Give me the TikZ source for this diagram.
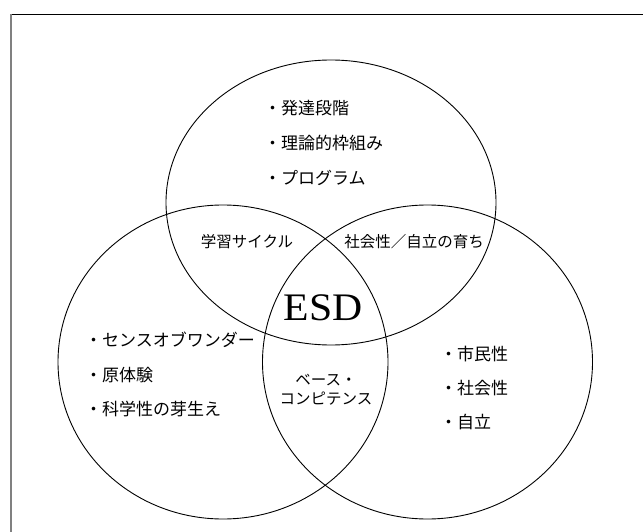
\documentclass[tikz,border=0pt]{standalone}
\usepackage{fontspec}
\newfontfamily\jp{Noto Sans CJK JP}
\newfontfamily\esdfont{Liberation Serif}
\begin{document}
\begin{tikzpicture}[x=1pt,y=-1pt,
  ring/.style={draw=black, line width=0.9pt},
  item/.style={anchor=west, inner sep=0pt, font=\jp\fontsize{17}{17}\selectfont},
  lab/.style={inner sep=0pt, font=\jp\fontsize{15.5}{19}\selectfont, align=center},
]
\useasboundingbox (0,0) rectangle (643,532);
% frame
\draw[line width=1.2pt] (10.5,14.5) -- (643,14.5);
\draw[line width=2pt, gray] (11,14) -- (11,532);
% circles
\draw[ring] (331,202.5) ellipse [x radius=165pt, y radius=142.5pt];
\draw[ring] (223,362) ellipse [x radius=165pt, y radius=157pt];
\draw[ring] (427.5,362) ellipse [x radius=165pt, y radius=157pt];
% top list
\node[item] (t1) at (264,108) {・発達段階};
\node[item] (t2) at (264,143) {・理論的枠組み};
\node[item] (t3) at (264,178) {・プログラム};
% left list
\node[item] (l1) at (85,340) {・センスオブワンダー};
\node[item] (l2) at (85,375) {・原体験};
\node[item] (l3) at (85,409) {・科学性の芽生え};
% right list
\node[item] (r1) at (440,354) {・市民性};
\node[item] (r2) at (440,388) {・社会性};
\node[item] (r3) at (440,422) {・自立};
% overlaps
\node[lab] (cyc) at (247,242) {学習サイクル};
\node[lab] (soc) at (414,242) {社会性／自立の育ち};
\node[lab] (base) at (326,390) {ベース・\\コンピテンス};
\node[inner sep=0pt, xscale=1.07, font=\esdfont\fontsize{39}{39}\selectfont] (esd) at (323,308) {ESD};
\end{tikzpicture}
\end{document}
